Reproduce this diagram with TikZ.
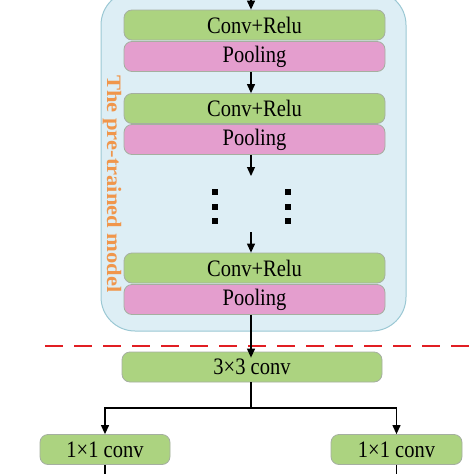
\documentclass[tikz,border=0pt]{standalone}
\usepackage{fontspec}
\setmainfont{Liberation Serif}
\usetikzlibrary{arrows.meta}
\definecolor{boxgreen}{RGB}{172,211,128}
\definecolor{boxpink}{RGB}{228,158,206}
\definecolor{boxborder}{RGB}{165,175,160}
\definecolor{bgblue}{RGB}{221,238,245}
\definecolor{bgborder}{RGB}{155,200,212}
\definecolor{txtorange}{RGB}{240,150,75}
\definecolor{dashred}{RGB}{225,30,35}
\newcommand{\tallt}[1]{\scalebox{1}[1.15]{#1}}
\tikzset{
  layer/.style={draw=boxborder, line width=0.8pt, rounded corners=8pt, minimum height=30pt, inner sep=0pt, font=\fontsize{20.5}{21}\selectfont},
  convbox/.style={layer, fill=boxgreen},
  poolbox/.style={layer, fill=boxpink},
  arr/.style={line width=1.2pt, -{Triangle[length=9pt,width=8pt]}},
  plain/.style={line width=1.2pt},
  dotsq/.style={fill=black, minimum size=5.5pt, inner sep=0pt}
}
\begin{document}
\begin{tikzpicture}[x=1pt,y=-1pt]
\useasboundingbox (0,0) rectangle (474,474);
\fill[white] (0,0) rectangle (474,474);
% background
\node[draw=bgborder, fill=bgblue, line width=1pt, rounded corners=34pt, minimum width=305pt, minimum height=340pt, inner sep=0pt] (bg) at (253.5,161) {};
\node[rotate=-90, text=txtorange, font=\bfseries\fontsize{20.5}{22}\selectfont] (lbl) at (112,184) {\scalebox{1.1}[1]{The pre-trained model}};
% layers
\node[convbox, minimum width=261pt] (c1) at (254.5,25) {\tallt{Conv+Relu}};
\node[poolbox, minimum width=261pt] (p1) at (254.5,56.5) {\tallt{Pooling}};
\node[convbox, minimum width=261pt] (c2) at (254.5,108.5) {\tallt{Conv+Relu}};
\node[poolbox, minimum width=261pt] (p2) at (254.5,139.5) {\tallt{Pooling}};
\node[convbox, minimum width=261pt] (c3) at (254.5,268) {\tallt{Conv+Relu}};
\node[poolbox, minimum width=261pt] (p3) at (254.5,299.5) {\tallt{Pooling}};
% dots
\foreach \yy [count=\i] in {192,207,221} {
  \node[dotsq] (dl\i) at (215,\yy) {};
  \node[dotsq] (dr\i) at (288,\yy) {};
}
\coordinate (top) at (251,-5);
\draw[arr] (top) -- (top |- c1.north);
\draw[arr] ([xshift=-3.5pt]p1.south) -- ([xshift=-3.5pt]c2.north);
\draw[arr] ([xshift=-3.5pt]p2.south) -- (251,176);
\draw[arr] (251,232) -- ([xshift=-3.5pt]c3.north);
% red dashed line
\coordinate (dl) at (45,346);
\coordinate (dr) at (480,346);
\draw[dashred, line width=2.8pt, dash pattern=on 18pt off 11pt] (dl) -- (dr);
% lower part
\node[convbox, minimum width=260pt] (k3) at (252,367) {\tallt{3×3 conv}};
\node[convbox, minimum width=130pt] (k1l) at (105,449.5) {\tallt{1×1 conv}};
\node[convbox, minimum width=131pt] (k1r) at (396.5,449.5) {\tallt{1×1 conv}};
\draw[arr] ([xshift=-3.5pt]p3.south) -- ([xshift=-1pt,yshift=-6pt]k3.north);
\coordinate (split) at (251,408);
\draw[plain] ([xshift=-1pt]k3.south) -- (split);
\draw[arr] (split) -| (k1l.north);
\draw[arr] (split) -| (k1r.north);
\coordinate (bl) at (105,480);
\coordinate (br) at (396.5,480);
\draw[plain] (k1l.south) -- (bl);
\draw[plain] (k1r.south) -- (br);
\end{tikzpicture}
\end{document}
